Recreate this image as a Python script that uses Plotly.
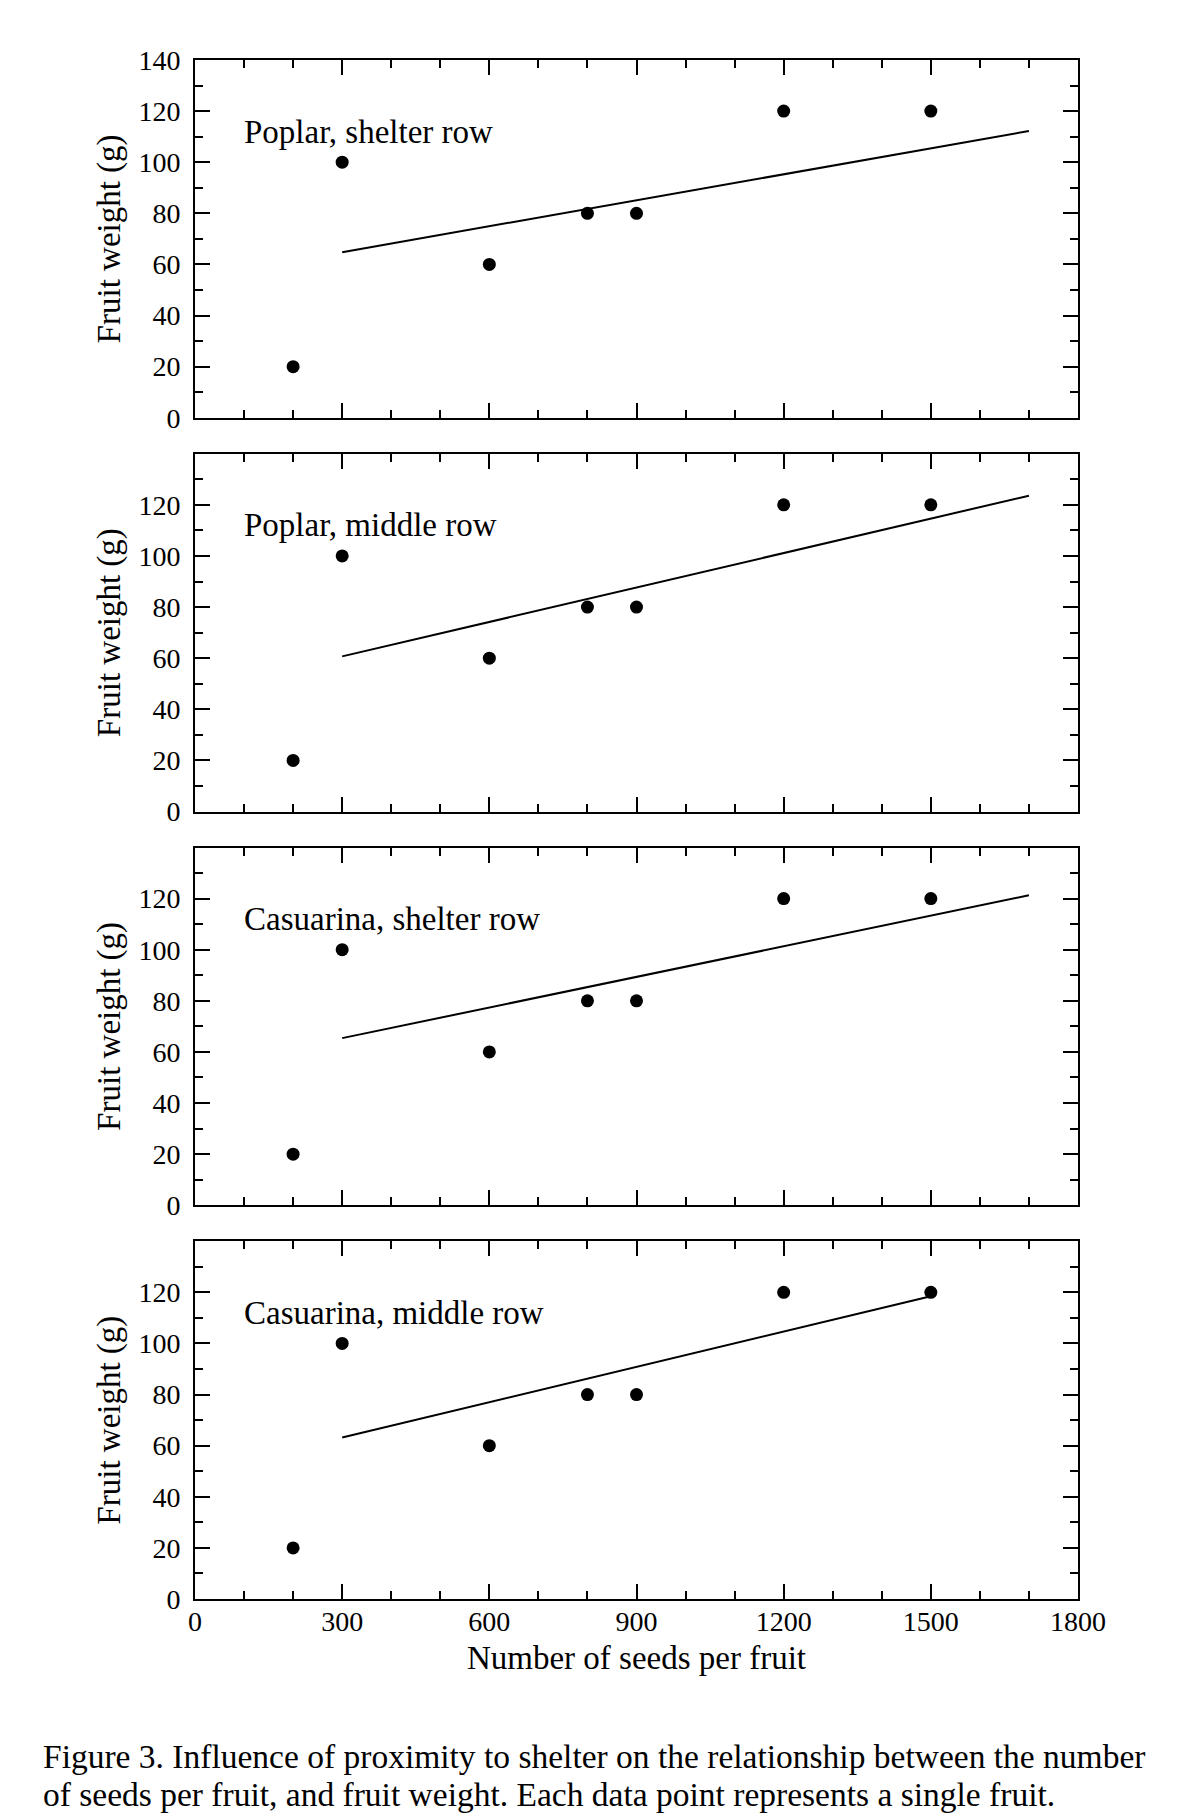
import plotly.graph_objects as go
from plotly.subplots import make_subplots

# Data
seeds = [200, 300, 600, 800, 900, 1200, 1500]
weight = [20, 100, 60, 80, 80, 120, 120]

panel_names = ["Poplar, shelter row", "Poplar, middle row",
               "Casuarina, shelter row", "Casuarina, middle row"]

# regression lines (start / end points) per panel
fit_x = [[300, 1700], [300, 1700], [300, 1700], [300, 1500]]
fit_y = [[64.8, 112.2], [60.7, 123.6], [65.4, 121.3], [63.2, 118.5]]

x_ticks = [0, 300, 600, 900, 1200, 1500, 1800]
y_ticks_top = [0, 20, 40, 60, 80, 100, 120, 140]
y_ticks = [0, 20, 40, 60, 80, 100, 120]

caption_lines = [
    "Figure 3. Influence of proximity to shelter on the relationship between the number",
    "of seeds per fruit, and fruit weight. Each data point represents a single fruit.",
]

FONT = "Liberation Serif"

fig = make_subplots(rows=4, cols=1, vertical_spacing=36 / 1539)

for i in range(4):
    r = i + 1
    fig.add_trace(go.Scatter(x=fit_x[i], y=fit_y[i], mode="lines",
                             line=dict(color="black", width=2),
                             showlegend=False), row=r, col=1)
    fig.add_trace(go.Scatter(x=seeds, y=weight, mode="markers",
                             marker=dict(color="black", size=13),
                             showlegend=False), row=r, col=1)

    fig.update_xaxes(range=[0, 1800], tickvals=x_ticks,
                     showticklabels=(r == 4),
                     ticks="inside", ticklen=15, tickwidth=2, tickcolor="black",
                     minor=dict(dtick=100, ticks="inside", ticklen=8, tickwidth=2,
                                tickcolor="black"),
                     showline=True, linecolor="black", linewidth=2, mirror="allticks",
                     showgrid=False, zeroline=False,
                     ticklabelstandoff=-4,
                     tickfont=dict(family=FONT, size=28, color="black"),
                     row=r, col=1)
    fig.update_yaxes(range=[0, 140], tickvals=(y_ticks_top if r == 1 else y_ticks),
                     ticks="inside", ticklen=15, tickwidth=2, tickcolor="black",
                     minor=dict(dtick=10, ticks="inside", ticklen=8, tickwidth=2,
                                tickcolor="black"),
                     showline=True, linecolor="black", linewidth=2, mirror="allticks",
                     showgrid=False, zeroline=False,
                     ticklabelstandoff=7,
                     tickfont=dict(family=FONT, size=28, color="black"),
                     title=dict(text="Fruit weight (g)", standoff=8,
                                font=dict(family=FONT, size=33, color="black")),
                     row=r, col=1)

    xref = "x" if r == 1 else "x%d" % r
    yref = "y" if r == 1 else "y%d" % r
    fig.add_annotation(x=96, y=112, xref=xref, yref=yref, text=panel_names[i],
                       showarrow=False, xanchor="left", yanchor="middle",
                       font=dict(family=FONT, size=33, color="black"))

fig.update_xaxes(title=dict(text="Number of seeds per fruit", standoff=10,
                            font=dict(family=FONT, size=33, color="black")),
                 row=4, col=1)

# caption, one annotation per line to keep the tight line spacing
for line, yy in zip(caption_lines, [-0.1025, -0.1268]):
    fig.add_annotation(x=-0.1744, y=yy, xref="paper", yref="paper", text=line,
                       showarrow=False, xanchor="left", yanchor="middle", align="left",
                       font=dict(family=FONT, size=33.5, color="black"))

fig.update_layout(width=1187, height=1817,
                  margin=dict(l=187, r=117, t=52, b=226),
                  plot_bgcolor="white", paper_bgcolor="white",
                  showlegend=False)

fig.write_html("out.html")
